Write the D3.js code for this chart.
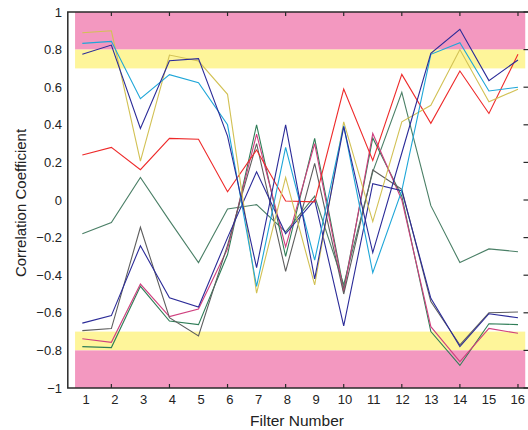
<!DOCTYPE html>
<html>
<head>
<meta charset="utf-8">
<script src="https://cdn.jsdelivr.net/npm/d3@7"></script>
<style>
  html, body { margin: 0; padding: 0; background: #fff; }
  svg { display: block; font-family: "Liberation Sans", Arial, sans-serif; }
</style>
</head>
<body>
<svg id="chart" width="528" height="430"></svg>
<script>
// Filter index along the x axis
const filters = [1, 2, 3, 4, 5, 6, 7, 8, 9, 10, 11, 12, 13, 14, 15, 16];

// Correlation coefficient per filter, one array per series
const seriesYellow = [0.89, 0.90, 0.207, 0.771, 0.739, 0.562, -0.495, 0.12, -0.452, 0.416, -0.115, 0.416, 0.504, 0.80, 0.523, 0.589];
const seriesCyan = [0.833, 0.844, 0.539, 0.667, 0.624, 0.40, -0.46, 0.28, -0.32, 0.394, -0.387, 0.05, 0.775, 0.837, 0.58, 0.60];
const seriesNavyA = [0.775, 0.824, 0.381, 0.741, 0.752, 0.34, -0.36, 0.40, -0.42, 0.39, -0.28, 0.25, 0.78, 0.908, 0.635, 0.745];
const seriesRed = [0.239, 0.28, 0.161, 0.328, 0.323, 0.044, 0.266, -0.005, -0.01, 0.59, 0.21, 0.668, 0.408, 0.686, 0.46, 0.775];
const seriesGreenA = [-0.18, -0.12, 0.12, -0.11, -0.333, -0.048, -0.025, -0.17, 0.02, -0.45, 0.15, 0.573, -0.03, -0.333, -0.26, -0.275];
const seriesNavyB = [-0.655, -0.615, -0.243, -0.52, -0.569, -0.2, 0.15, -0.18, 0.0, -0.67, 0.087, 0.05, -0.523, -0.78, -0.605, -0.626];
const seriesGray = [-0.695, -0.684, -0.145, -0.626, -0.723, -0.24, 0.30, -0.38, 0.195, -0.50, 0.16, 0.057, -0.54, -0.771, -0.60, -0.596];
const seriesPink = [-0.738, -0.757, -0.447, -0.62, -0.58, -0.26, 0.35, -0.25, 0.30, -0.49, 0.354, 0.0, -0.674, -0.86, -0.683, -0.709];
const seriesGreenB = [-0.78, -0.785, -0.459, -0.644, -0.663, -0.29, 0.40, -0.30, 0.328, -0.475, 0.33, 0.02, -0.70, -0.88, -0.658, -0.663];

// Tick values
const xTickLabels = filters;
const xTickMarks = [2, 4, 6, 8, 10, 12, 14, 16];
const yTicks = [-1, -0.8, -0.6, -0.4, -0.2, 0, 0.2, 0.4, 0.6, 0.8, 1];

// Significance bands: [low, high, fill]
const bands = [
  [0.8, 1, "#f398c0"],
  [0.7, 0.8, "#fef59a"],
  [-0.8, -0.7, "#fef59a"],
  [-1, -0.8, "#f398c0"]
];
const bandExtent = [0.75, 16.25];

const lines = [
  { values: seriesGreenA, color: "#4a7f66" },
  { values: seriesGreenB, color: "#2f7d57" },
  { values: seriesPink, color: "#cf3f7e" },
  { values: seriesGray, color: "#5e5e5e" },
  { values: seriesNavyB, color: "#2b2b98" },
  { values: seriesRed, color: "#ee2a2a" },
  { values: seriesYellow, color: "#d2c154" },
  { values: seriesCyan, color: "#1ea6d8" },
  { values: seriesNavyA, color: "#2b2b98" }
];

const svg = d3.select("#chart");

const x = d3.scaleLinear().domain([0.5, 16.5]).range([67.8, 532.5]);
const xLabel = d3.scaleLinear().domain([1, 16]).range([86, 517.7]);
const y = d3.scaleLinear().domain([-1, 1]).range([388, 12]);

// bands
svg.append("g").selectAll("rect").data(bands).join("rect")
  .attr("x", x(bandExtent[0]))
  .attr("width", x(bandExtent[1]) - x(bandExtent[0]))
  .attr("y", d => y(d[1]))
  .attr("height", d => y(d[0]) - y(d[1]))
  .attr("fill", d => d[2]);

// series lines
const line = d3.line().x((d, i) => x(filters[i])).y(d => y(d));
svg.append("g").selectAll("path").data(lines).join("path")
  .attr("d", d => line(d.values))
  .attr("fill", "none")
  .attr("stroke", d => d.color)
  .attr("stroke-width", 1.1)
  .attr("stroke-linejoin", "miter");

// frame
const frame = svg.append("g").attr("stroke", "#2a2a2a").attr("stroke-width", 1.5).attr("fill", "none");
frame.append("path").attr("d", `M${x(16.5)},${y(1)}H${x(0.5)}V${y(-1)}H${x(16.5)}`);

// x tick marks (top and bottom, pointing inward)
const tickG = svg.append("g").attr("stroke", "#2a2a2a").attr("stroke-width", 1.2);
tickG.selectAll("line.b").data(xTickMarks).join("line").attr("class", "b")
  .attr("x1", d => x(d)).attr("x2", d => x(d))
  .attr("y1", y(-1)).attr("y2", y(-1) - 4);
tickG.selectAll("line.t").data(xTickMarks).join("line").attr("class", "t")
  .attr("x1", d => x(d)).attr("x2", d => x(d))
  .attr("y1", y(1)).attr("y2", y(1) + 4);
// y tick marks on the right edge
tickG.selectAll("line.r").data(yTicks).join("line").attr("class", "r")
  .attr("x1", 523.5).attr("x2", 528)
  .attr("y1", d => y(d)).attr("y2", d => y(d));

// tick labels
svg.append("g").selectAll("text").data(xTickLabels).join("text")
  .attr("x", d => xLabel(d)).attr("y", 404)
  .attr("text-anchor", "middle").attr("font-size", 13).attr("fill", "#222")
  .text(d => d);

svg.append("g").selectAll("text").data(yTicks).join("text")
  .attr("x", 62).attr("y", d => y(d) + 4.5)
  .attr("text-anchor", "end").attr("font-size", 13).attr("fill", "#222")
  .text(d => d3.format("")(d));

// axis titles
svg.append("text").attr("x", 297).attr("y", 426)
  .attr("text-anchor", "middle").attr("font-size", 15.5).attr("fill", "#222")
  .text("Filter Number");
svg.append("text")
  .attr("transform", "translate(26,203) rotate(-90)")
  .attr("text-anchor", "middle").attr("font-size", 15).attr("fill", "#222")
  .text("Correlation Coefficient");
</script>
</body>
</html>
